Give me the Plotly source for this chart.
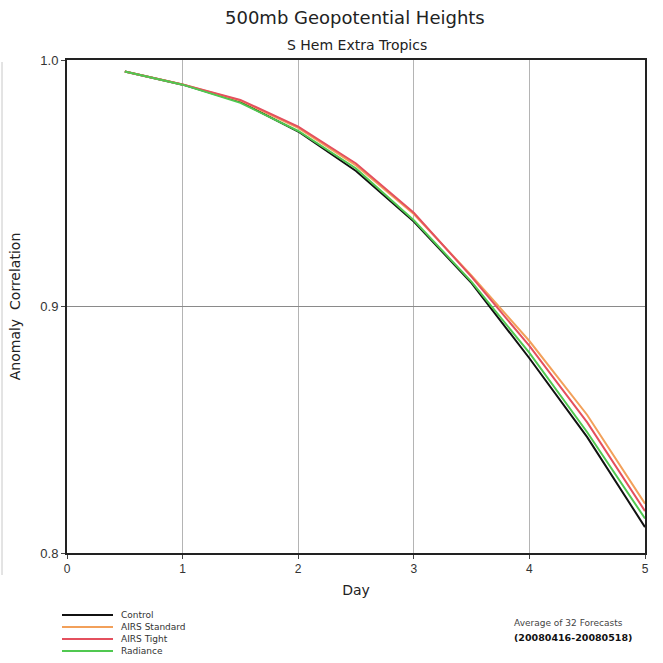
import plotly.graph_objects as go

days = [0.5, 1.0, 1.5, 2.0, 2.5, 3.0, 3.5, 4.0, 4.5, 5.0]
control = [0.9953, 0.9900, 0.9830, 0.9710, 0.9550, 0.9345, 0.9095, 0.8790, 0.8470, 0.8105]
airs_standard = [0.9953, 0.9901, 0.9835, 0.9725, 0.9572, 0.9375, 0.9125, 0.8860, 0.8560, 0.8200]
airs_tight = [0.9953, 0.9901, 0.9838, 0.9730, 0.9580, 0.9380, 0.9120, 0.8840, 0.8530, 0.8170]
radiance = [0.9953, 0.9900, 0.9826, 0.9712, 0.9560, 0.9350, 0.9100, 0.8812, 0.8490, 0.8140]

series_names = ["Control", "AIRS Standard", "AIRS Tight", "Radiance"]
series_values = [control, airs_standard, airs_tight, radiance]
series_colors = ["#111111", "#f2a05a", "#e4505e", "#50c850"]

x_ticks = [0, 1, 2, 3, 4, 5]
y_ticks = [0.8, 0.9, 1.0]
y_tick_labels = ["0.8", "0.9", "1.0"]

W, H = 663, 663
L, R, T, B = 67, 18, 60, 110
PW, PH = W - L - R, H - T - B


def px(xp):
    return (xp - L) / PW


def py(yp):
    return (H - B - yp) / PH


fig = go.Figure()
for name, vals, col in zip(series_names, series_values, series_colors):
    fig.add_trace(go.Scatter(x=days, y=vals, mode="lines", name=name,
                             line=dict(color=col, width=2), showlegend=False))

fig.update_layout(
    width=W, height=H,
    margin=dict(l=L, r=R, t=T, b=B, autoexpand=False),
    paper_bgcolor="white", plot_bgcolor="white",
    font=dict(family="Liberation Sans, Arial, sans-serif", color="#222"),
    showlegend=False,
)
fig.update_xaxes(range=[0, 5], tickvals=x_ticks, ticktext=[str(t) for t in x_ticks],
                 showgrid=True, gridcolor="#b4b4b4", gridwidth=1,
                 showline=True, linecolor="#222", linewidth=2, mirror=True,
                 ticks="outside", ticklen=4, tickcolor="#444",
                 tickfont=dict(size=12, color="#333"),
                 title=dict(text="Day", font=dict(size=14, family="DejaVu Sans, sans-serif", color="#222"), standoff=10),
                 zeroline=False)
fig.update_yaxes(range=[0.8, 1.0], tickvals=y_ticks, ticktext=y_tick_labels,
                 showgrid=True, gridcolor="#8a8a8a", gridwidth=1,
                 showline=True, linecolor="#222", linewidth=2, mirror=True,
                 ticks="outside", ticklen=4, tickcolor="#444",
                 tickfont=dict(size=13, color="#333"),
                 title=dict(text="Anomaly  Correlation", font=dict(size=14, family="DejaVu Sans, sans-serif", color="#222"), standoff=16),
                 zeroline=False)

# titles
fig.add_annotation(text="500mb Geopotential Heights", xref="paper", yref="paper",
                   x=px(355), y=py(18), xanchor="center", yanchor="middle", showarrow=False,
                   font=dict(size=18, family="DejaVu Sans, sans-serif", color="#222"))
fig.add_annotation(text="S Hem Extra Tropics", xref="paper", yref="paper",
                   x=px(357), y=py(45), xanchor="center", yanchor="middle", showarrow=False,
                   font=dict(size=14, family="DejaVu Sans, sans-serif", color="#222"))

# legend (drawn manually to match compact spacing)
for i, (name, col) in enumerate(zip(series_names, series_colors)):
    yy = py(615 + 12 * i)
    fig.add_shape(type="line", xref="paper", yref="paper",
                  x0=px(62), x1=px(113), y0=yy, y1=yy,
                  line=dict(color=col, width=2))
    fig.add_annotation(text=name, xref="paper", yref="paper", x=px(119), y=yy,
                       xanchor="left", yanchor="middle", showarrow=False,
                       font=dict(size=9, family="DejaVu Sans, sans-serif", color="#333"))

# footnote
fig.add_annotation(text="Average of 32 Forecasts", xref="paper", yref="paper",
                   x=px(512), y=py(623), xanchor="left", yanchor="middle", showarrow=False,
                   font=dict(size=9, family="DejaVu Sans, sans-serif", color="#444"))
fig.add_annotation(text="<b>(20080416-20080518)</b>", xref="paper", yref="paper",
                   x=px(512), y=py(637), xanchor="left", yanchor="middle", showarrow=False,
                   font=dict(size=9.5, family="DejaVu Sans, sans-serif", color="#111"))

# faint left-edge rule seen in the reference
fig.add_shape(type="line", xref="paper", yref="paper", x0=px(2), x1=px(2),
              y0=py(62), y1=py(575), line=dict(color="#c8c8c8", width=1))

fig.write_html("out.html")
